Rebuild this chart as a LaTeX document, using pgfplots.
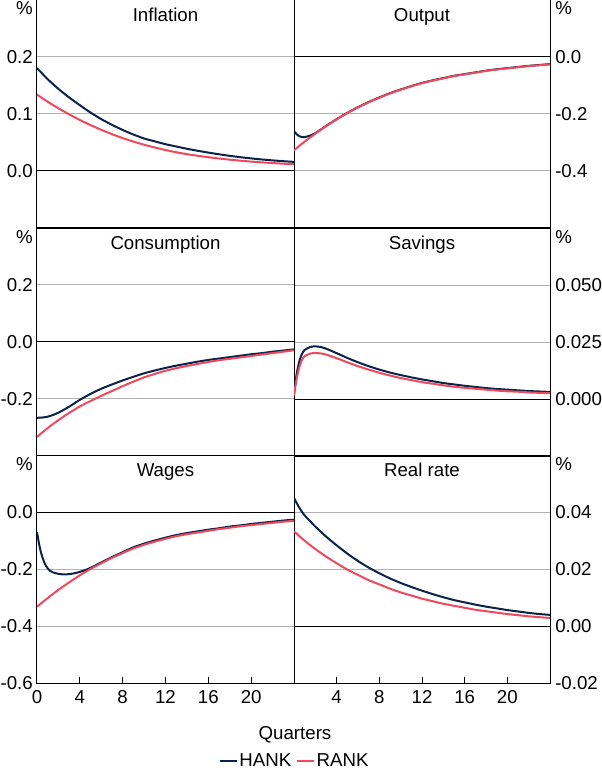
\documentclass[border=0pt]{standalone}
\usepackage{fontspec}
\setmainfont{Liberation Sans}
\usepackage{pgfplots}
\pgfplotsset{compat=1.18}

\definecolor{hank}{RGB}{10,35,75}
\definecolor{rank}{RGB}{240,72,92}
\definecolor{gridgray}{RGB}{178,178,178}

\newcommand{\bigfont}{\fontsize{14}{16}\selectfont}

\pgfplotsset{
  panel/.style={
    scale only axis, width=192.75pt, height=171pt,
    xmin=0, xmax=24,
    clip mode=individual,
    scaled y ticks=false,
    /pgf/number format/assume math mode=true,
    axis line style={black, line width=0.75pt},
    ymajorgrids, grid style={gridgray, line width=0.75pt},
    ytick style={draw=none},
    xtick=\empty,
    tick label style={font=\bigfont},
    extra y ticks={0}, extra y tick labels={},
    extra y tick style={grid style={black, line width=0.75pt}, major tick length=0pt},
  },
  leftpanel/.style={panel, yticklabel style={inner xsep=0pt, xshift=-3pt}},
  rightpanel/.style={panel, yticklabel pos=right,
    yticklabel style={inner xsep=0pt, xshift=3.75pt}},
  bottomrow/.style={xtick pos=lower, tick align=inside, major tick length=4.5pt,
    x tick style={black, line width=0.75pt},
    xticklabel style={inner ysep=0pt, yshift=-5.6pt}},
  hankline/.style={hank, line width=1.5pt, smooth, tension=0.4},
  rankline/.style={rank, line width=1.5pt, smooth, tension=0.4},
}

% title and per-cent sign of a panel
\newcommand{\paneltitle}[1]{\node[font=\bigfont, anchor=base] at (axis description cs:0.5,1) [yshift=-16.3pt] {#1};}
\newcommand{\pctleft}{\node[font=\bigfont, anchor=base east, inner sep=0pt] at (axis description cs:0,1) [xshift=-3pt, yshift=-11.25pt] {\%};}
\newcommand{\pctright}{\node[font=\bigfont, anchor=base west, inner sep=0pt] at (axis description cs:1,1) [xshift=3.75pt, yshift=-11.25pt] {\%};}

\begin{document}
\begin{tikzpicture}
\path[use as bounding box] (0,0) rectangle (451.5pt,-577.5pt);

% Inflation
\begin{axis}[leftpanel, at={(27.75pt,0pt)}, anchor=north west,
  ymin=-0.1, ymax=0.3, ytick={0,0.1,0.2}, yticklabels={0.0,0.1,0.2}]
\addplot[hankline] coordinates {
(0,0.1805)(1,0.161)(2,0.144)(3,0.129)(4,0.1155)(5,0.1025)(6,0.091)(7,0.081)
(8,0.072)(9,0.064)(10,0.057)(11,0.052)(12,0.047)(13,0.043)(14,0.039)(15,0.0355)
(16,0.0323)(17,0.0293)(18,0.0266)(19,0.0242)(20,0.0221)(21,0.0202)(22,0.0186)
(23,0.0172)(24,0.0160)};
\addplot[rankline] coordinates {
(0,0.134)(1,0.1215)(2,0.110)(3,0.0995)(4,0.0895)(5,0.0805)(6,0.0722)(7,0.0646)
(8,0.0578)(9,0.0516)(10,0.0461)(11,0.0412)(12,0.0368)(13,0.0329)(14,0.0295)
(15,0.0267)(16,0.0242)(17,0.0219)(18,0.0199)(19,0.0181)(20,0.0165)(21,0.0151)
(22,0.0139)(23,0.0128)(24,0.0118)};
\paneltitle{Inflation}
\pctleft
\end{axis}

% Output
\begin{axis}[rightpanel, at={(220.5pt,0pt)}, anchor=north west, width=192pt,
  ymin=-0.6, ymax=0.2, ytick={-0.4,-0.2,0}, yticklabels={-0.4,-0.2,0.0}]
\addplot[hankline] coordinates {
(0,-0.260)(0.25,-0.271)(0.5,-0.278)(0.75,-0.281)(1,-0.281)(1.5,-0.276)(2,-0.267)
(2.5,-0.255)(3,-0.242)(4,-0.218)(5,-0.196)(6,-0.176)(7,-0.158)(8,-0.142)(9,-0.127)
(10,-0.114)(11,-0.102)(12,-0.091)(13,-0.082)(14,-0.074)(15,-0.066)(16,-0.060)
(17,-0.054)(18,-0.048)(19,-0.043)(20,-0.039)(21,-0.035)(22,-0.031)(23,-0.028)(24,-0.025)};
\addplot[rankline] coordinates {
(0,-0.327)(1,-0.297)(2,-0.269)(3,-0.243)(4,-0.219)(5,-0.197)(6,-0.177)(7,-0.159)
(8,-0.143)(9,-0.128)(10,-0.115)(11,-0.103)(12,-0.092)(13,-0.083)(14,-0.075)
(15,-0.067)(16,-0.061)(17,-0.055)(18,-0.049)(19,-0.044)(20,-0.040)(21,-0.036)
(22,-0.032)(23,-0.029)(24,-0.026)};
\paneltitle{Output}
\pctright
\end{axis}

% Consumption
\begin{axis}[leftpanel, at={(27.75pt,-171pt)}, anchor=north west,
  ymin=-0.4, ymax=0.4, ytick={-0.2,0,0.2}, yticklabels={-0.2,0.0,0.2}]
\addplot[hankline] coordinates {
(0,-0.266)(0.5,-0.265)(1,-0.262)(1.5,-0.256)(2,-0.248)(2.5,-0.238)(3,-0.227)
(3.5,-0.215)(4,-0.203)(5,-0.182)(6,-0.164)(7,-0.149)(8,-0.135)(9,-0.122)(10,-0.110)
(11,-0.100)(12,-0.091)(13,-0.083)(14,-0.076)(15,-0.069)(16,-0.063)(17,-0.058)
(18,-0.053)(19,-0.048)(20,-0.043)(21,-0.039)(22,-0.034)(23,-0.030)(24,-0.026)};
\addplot[rankline] coordinates {
(0,-0.333)(1,-0.302)(2,-0.274)(3,-0.249)(4,-0.226)(5,-0.207)(6,-0.189)(7,-0.172)
(8,-0.155)(9,-0.139)(10,-0.124)(11,-0.112)(12,-0.101)(13,-0.092)(14,-0.084)
(15,-0.077)(16,-0.070)(17,-0.064)(18,-0.059)(19,-0.054)(20,-0.049)(21,-0.044)
(22,-0.039)(23,-0.034)(24,-0.029)};
\paneltitle{Consumption}
\pctleft
\end{axis}

% Savings
\begin{axis}[rightpanel, at={(220.5pt,-171pt)}, anchor=north west, width=192pt,
  ymin=-0.025, ymax=0.075, ytick={0,0.025,0.05}, yticklabels={0.000,0.025,0.050}]
\addplot[hankline] coordinates {
(0,0.0022)(0.25,0.0110)(0.5,0.0165)(0.75,0.0198)(1,0.0215)(1.5,0.0228)(2,0.0231)
(2.5,0.0228)(3,0.0221)(4,0.0201)(5,0.0180)(6,0.0161)(7,0.0144)(8,0.0129)(9,0.0116)
(10,0.0105)(11,0.0095)(12,0.0086)(13,0.0078)(14,0.0070)(15,0.0064)(16,0.0058)
(17,0.0053)(18,0.0048)(19,0.0044)(20,0.0041)(21,0.0038)(22,0.0035)(23,0.0033)(24,0.0031)};
\addplot[rankline] coordinates {
(0,0.0015)(0.25,0.0090)(0.5,0.0140)(0.75,0.0172)(1,0.0188)(1.5,0.0199)(2,0.0202)
(2.5,0.0200)(3,0.0195)(4,0.0179)(5,0.0161)(6,0.0144)(7,0.0129)(8,0.0115)(9,0.0103)
(10,0.0092)(11,0.0083)(12,0.0074)(13,0.0067)(14,0.0060)(15,0.0054)(16,0.0049)
(17,0.0045)(18,0.0041)(19,0.0037)(20,0.0034)(21,0.0032)(22,0.0029)(23,0.0027)(24,0.0026)};
\paneltitle{Savings}
\pctright
\end{axis}

% Wages
\begin{axis}[leftpanel, bottomrow, at={(27.75pt,-341.25pt)}, anchor=north west,
  ymin=-0.6, ymax=0.2, ytick={-0.6,-0.4,-0.2,0}, yticklabels={-0.6,-0.4,-0.2,0.0},
  xtick={0,4,8,12,16,20},
  legend style={at={(1,-0.342)}, anchor=center, draw=none, fill=none,
    legend columns=2, font=\bigfont, inner sep=0pt, nodes={inner sep=1pt},
    /tikz/every even column/.append style={column sep=2pt}},
  legend image code/.code={\draw[#1, line width=2.2pt] (0pt,0pt) -- (12.75pt,0pt);}]
\addplot[hankline] coordinates {
(0,-0.071)(0.15,-0.103)(0.31,-0.133)(0.5,-0.158)(0.75,-0.183)(1,-0.198)(1.25,-0.207)
(1.5,-0.212)(2,-0.217)(2.5,-0.219)(3,-0.218)(3.5,-0.215)(4,-0.210)(4.5,-0.204)
(5,-0.196)(6,-0.177)(7,-0.158)(8,-0.141)(9,-0.124)(10,-0.111)(11,-0.100)(12,-0.090)
(13,-0.081)(14,-0.074)(15,-0.068)(16,-0.062)(17,-0.057)(18,-0.051)(19,-0.047)
(20,-0.042)(21,-0.038)(22,-0.034)(23,-0.030)(24,-0.027)};
\addlegendentry{HANK}
\addplot[rankline] coordinates {
(0,-0.332)(1,-0.302)(2,-0.273)(3,-0.247)(4,-0.222)(5,-0.200)(6,-0.180)(7,-0.161)
(8,-0.144)(9,-0.128)(10,-0.115)(11,-0.104)(12,-0.094)(13,-0.085)(14,-0.078)
(15,-0.072)(16,-0.066)(17,-0.060)(18,-0.055)(19,-0.050)(20,-0.046)(21,-0.042)
(22,-0.038)(23,-0.034)(24,-0.031)};
\addlegendentry{RANK}
\paneltitle{Wages}
\pctleft
\end{axis}

% Real rate
\begin{axis}[rightpanel, bottomrow, at={(220.5pt,-341.25pt)}, anchor=north west, width=192pt,
  ymin=-0.02, ymax=0.06, ytick={-0.02,0,0.02,0.04}, yticklabels={-0.02,0.00,0.02,0.04},
  xtick={4,8,12,16,20}]
\addplot[hankline] coordinates {
(0,0.0449)(0.5,0.0415)(1,0.0388)(2,0.0349)(3,0.0314)(4,0.0283)(5,0.0254)(6,0.0228)
(7,0.0205)(8,0.0185)(9,0.0167)(10,0.0151)(11,0.0137)(12,0.0124)(13,0.0112)(14,0.0101)
(15,0.0091)(16,0.0083)(17,0.0075)(18,0.0068)(19,0.0062)(20,0.0056)(21,0.0051)
(22,0.0046)(23,0.0042)(24,0.0039)};
\addplot[rankline] coordinates {
(0,0.0332)(1,0.0299)(2,0.0270)(3,0.0244)(4,0.0220)(5,0.0198)(6,0.0179)(7,0.0161)
(8,0.0146)(9,0.0131)(10,0.0118)(11,0.0107)(12,0.0096)(13,0.0087)(14,0.0078)
(15,0.0071)(16,0.0064)(17,0.0057)(18,0.0052)(19,0.0047)(20,0.0042)(21,0.0038)
(22,0.0034)(23,0.0031)(24,0.0028)};
\paneltitle{Real rate}
\pctright
\end{axis}

\node[font=\bigfont, anchor=base] at (221.25pt,-554.6pt) {Quarters};
\end{tikzpicture}
\end{document}
